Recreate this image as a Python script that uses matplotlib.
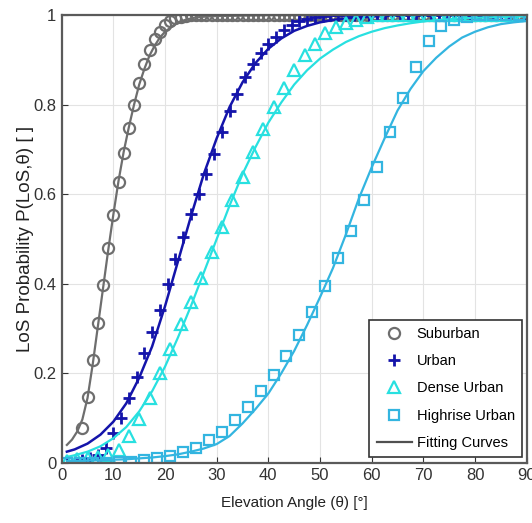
import matplotlib
matplotlib.use('Agg')
import matplotlib.pyplot as plt
from matplotlib.lines import Line2D

plt.rcParams['font.family'] = ['Liberation Sans', 'DejaVu Sans']

# measured points (elevation angle in degrees, LoS probability)
sub_angle = [4, 5, 6, 7, 8, 9, 10, 11, 12, 13, 14, 15, 16, 17, 18, 19, 20, 21, 22, 23, 24,
             25, 26, 27, 28, 29, 30, 31, 32, 33, 34, 35, 36, 37, 38, 39, 40, 41, 42, 43, 44,
             45, 46, 47, 48, 49, 50, 51, 52, 53, 54, 55, 56, 57, 58, 59, 60, 61, 62, 63, 64,
             65, 66, 67, 68, 69, 70, 71, 72, 73, 74, 75, 76, 77, 78, 79, 80, 81, 82, 83, 84,
             85, 86, 87, 88, 89, 90]
sub_prob = [0.078, 0.147, 0.23, 0.313, 0.397, 0.48, 0.553, 0.627, 0.692, 0.748, 0.80, 0.848,
            0.89, 0.922, 0.946, 0.963, 0.977, 0.987, 0.993, 0.997, 0.999,
            1, 1, 1, 1, 1, 1, 1, 1, 1, 1, 1,
            1, 1, 1, 1, 1, 1, 1, 1, 1, 1, 1,
            1, 1, 1, 1, 1, 1, 1, 1, 1, 1, 1,
            1, 1, 1, 1, 1, 1, 1, 1, 1, 1, 1,
            1, 1, 1, 1, 1, 1, 1, 1, 1, 1, 1,
            1, 1, 1, 1, 1, 1, 1, 1, 1, 1, 1]

urban_angle = [1, 2.5, 4, 5.5, 7, 8.5, 10, 11.5, 13, 14.5, 16, 17.5, 19, 20.5, 22, 23.5, 25,
               26.5, 28, 29.5, 31, 32.5, 34, 35.5, 37, 38.5, 40, 41.5, 43, 44.5, 46, 47.5, 49,
               50.5, 52, 53.5, 55, 56.5, 58, 59.5, 61, 62.5, 64, 65.5, 67, 68.5, 70, 71.5, 73,
               74.5, 76, 77.5, 79, 80.5, 82, 83.5, 85, 86.5, 88, 89.5]
urban_prob = [0.0, 0.003, 0.006, 0.01, 0.018, 0.034, 0.067, 0.10, 0.145, 0.192, 0.245, 0.292,
              0.341, 0.40, 0.455, 0.505, 0.555, 0.60, 0.645, 0.69, 0.74, 0.785, 0.825, 0.862,
              0.89, 0.915, 0.935, 0.952, 0.967, 0.978, 0.986, 0.991, 0.995, 0.998,
              1, 1, 1, 1, 1, 1, 1, 1, 1, 1, 1, 1, 1,
              1, 1, 1, 1, 1, 1, 1, 1, 1, 1, 1, 1, 1]

dense_angle = [1, 3, 5, 7, 9, 11, 13, 15, 17, 19, 21, 23, 25, 27, 29, 31, 33, 35, 37, 39, 41,
               43, 45, 47, 49, 51, 53, 55, 57, 59, 61, 63, 65, 67, 69, 71, 73, 75, 77, 79, 81,
               83, 85, 87, 89]
dense_prob = [0.005, 0.008, 0.01, 0.013, 0.018, 0.029, 0.06, 0.098, 0.145, 0.20, 0.255, 0.31,
              0.36, 0.413, 0.47, 0.527, 0.587, 0.638, 0.694, 0.745, 0.795, 0.837, 0.877, 0.91,
              0.935, 0.96, 0.973, 0.983, 0.99, 0.995,
              1, 1, 1, 1, 1, 1, 1, 1, 1, 1, 1, 1, 1, 1, 1]

high_angle = [1, 3.5, 6, 8.5, 11, 13.5, 16, 18.5, 21, 23.5, 26, 28.5, 31, 33.5, 36, 38.5, 41,
              43.5, 46, 48.5, 51, 53.5, 56, 58.5, 61, 63.5, 66, 68.5, 71, 73.5, 76, 78.5, 81,
              83.5, 86, 88.5]
high_prob = [0.0, 0.0, 0.0, 0.0, 0.002, 0.003, 0.006, 0.01, 0.015, 0.024, 0.034, 0.05, 0.07,
             0.096, 0.125, 0.16, 0.196, 0.239, 0.286, 0.336, 0.395, 0.457, 0.518, 0.588, 0.66,
             0.74, 0.815, 0.884, 0.942, 0.975, 0.99, 0.997, 1, 1, 1, 1]

# fitting curves
sub_fit_angle = [1, 2, 3, 4, 5, 6, 7, 8, 9, 10, 11, 12, 13, 14, 15, 16, 17, 18, 19, 20,
                 22, 24, 26, 28, 30, 35, 40, 50, 60, 70, 80, 90]
sub_fit = [0.04, 0.052, 0.07, 0.097, 0.145, 0.22, 0.305, 0.39, 0.475, 0.555, 0.63, 0.695,
           0.75, 0.80, 0.845, 0.88, 0.91, 0.932, 0.95, 0.963, 0.98, 0.99, 0.995, 0.997,
           0.998, 0.999, 1, 1, 1, 1, 1, 1]

fit_angle = [1, 2.5, 5, 7.5, 10, 12.5, 15, 17.5, 20, 22.5, 25, 27.5, 30, 32.5, 35, 37.5, 40,
             42.5, 45, 47.5, 50, 52.5, 55, 57.5, 60, 62.5, 65, 67.5, 70, 72.5, 75, 77.5, 80,
             82.5, 85, 87.5, 90]
urban_fit = [0.025, 0.03, 0.043, 0.063, 0.092, 0.133, 0.19, 0.26, 0.35, 0.45, 0.55, 0.645,
             0.725, 0.795, 0.85, 0.893, 0.925, 0.948, 0.965, 0.976, 0.984, 0.989, 0.993, 0.995,
             0.997, 0.998, 0.999, 1, 1, 1, 1, 1, 1, 1, 1, 1, 1]
dense_fit = [0.013, 0.017, 0.025, 0.037, 0.055, 0.08, 0.115, 0.16, 0.215, 0.28, 0.35, 0.425,
             0.50, 0.575, 0.645, 0.705, 0.76, 0.805, 0.845, 0.877, 0.903, 0.923, 0.94, 0.953,
             0.963, 0.971, 0.977, 0.982, 0.986, 0.989, 0.991, 0.993, 0.994, 0.995, 0.996,
             0.997, 0.997]
high_fit = [0.004, 0.004, 0.005, 0.006, 0.007, 0.008, 0.01, 0.012, 0.015, 0.019, 0.025, 0.032,
            0.042, 0.06, 0.088, 0.12, 0.155, 0.20, 0.25, 0.308, 0.37, 0.435, 0.51, 0.59, 0.66,
            0.725, 0.787, 0.835, 0.875, 0.905, 0.93, 0.95, 0.963, 0.973, 0.98, 0.984, 0.987]

c_sub = '#6e6e6e'
c_urban = '#1414aa'
c_dense = '#28e0e0'
c_high = '#33b5e0'

fig = plt.figure(figsize=(5.32, 5.23), dpi=100)
ax = fig.add_axes([0.116, 0.115, 0.874, 0.856])

ax.plot(sub_angle, sub_prob, 'o', mfc='none', mec=c_sub, ms=8, mew=1.6)
ax.plot(sub_fit_angle, sub_fit, '-', color=c_sub, lw=1.6)
ax.plot(urban_angle, urban_prob, '+', color=c_urban, ms=9, mew=2)
ax.plot(fit_angle, urban_fit, '-', color=c_urban, lw=1.8)
ax.plot(dense_angle, dense_prob, '^', mfc='none', mec=c_dense, ms=8, mew=1.6)
ax.plot(fit_angle, dense_fit, '-', color=c_dense, lw=1.6)
ax.plot(high_angle, high_prob, 's', mfc='none', mec=c_high, ms=7, mew=1.6)
ax.plot(fit_angle, high_fit, '-', color=c_high, lw=1.6)

ax.set_xlim(0, 90)
ax.set_ylim(0, 1)
ax.set_xticks([0, 10, 20, 30, 40, 50, 60, 70, 80, 90])
ax.set_yticks([0, 0.2, 0.4, 0.6, 0.8, 1])
ax.set_yticklabels(['0', '0.2', '0.4', '0.6', '0.8', '1'])
ax.grid(True, color='#e3e3e3', lw=0.8)
ax.set_axisbelow(True)
ax.tick_params(direction='in', length=4, labelsize=12, colors='#333333', pad=4)
for s in ax.spines.values():
    s.set_color('#5a5a5a')
    s.set_linewidth(1.6)

ax.set_xlabel('Elevation Angle (θ) [°]', fontsize=11, color='#222222', labelpad=9)
ax.set_ylabel('LoS Probability P(LoS,θ) [ ]', fontsize=13.5, color='#222222', labelpad=-1)

handles = [
    Line2D([], [], ls='none', marker='o', mfc='none', mec=c_sub, ms=8, mew=1.6),
    Line2D([], [], ls='none', marker='+', color=c_urban, ms=9, mew=2),
    Line2D([], [], ls='none', marker='^', mfc='none', mec=c_dense, ms=8, mew=1.6),
    Line2D([], [], ls='none', marker='s', mfc='none', mec=c_high, ms=7, mew=1.6),
    Line2D([], [], color='#505050', lw=1.6),
]
labels = ['Suburban', 'Urban', 'Dense Urban', 'Highrise Urban', 'Fitting Curves']
leg = ax.legend(handles, labels, loc='lower right', bbox_to_anchor=(0.99, 0.013),
                borderaxespad=0, fontsize=10.5, frameon=True, fancybox=False,
                framealpha=1, edgecolor='#333333', handlelength=2.4, labelspacing=0.9,
                handletextpad=0.35, borderpad=0.5)
leg.get_frame().set_linewidth(1.2)

fig.savefig('out.png', dpi=100)
